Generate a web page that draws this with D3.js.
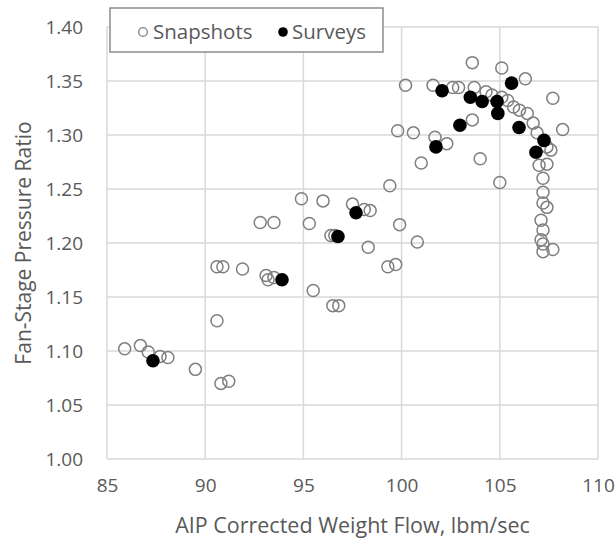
<!DOCTYPE html>
<html lang="en">
<head>
    <meta charset="UTF-8">
    <title>Fan-Stage Pressure Ratio vs Weight Flow</title>
    <script src="https://d3js.org/d3.v7.min.js"></script>
    <style>
        body { margin: 0; background: #fff; }
        text { font-family: "Open Sans", sans-serif; fill: #595959; }
    </style>
</head>
<body>
    <script>
        // Snapshots (open circles)
        const snapX = [85.9, 86.7, 87.1, 87.7, 88.1, 89.5, 90.8, 91.2, 90.6, 90.6, 90.9, 91.9,
            93.1, 93.2, 93.5, 92.8, 93.5, 94.9, 96.0, 95.3, 95.5, 96.5, 96.8, 96.4, 96.6,
            97.5, 98.1, 98.4, 98.3, 99.3, 99.7, 99.4, 99.9, 100.8, 100.2, 99.8, 100.6, 101.0,
            101.7, 102.3, 101.6, 102.6, 102.9, 103.6, 104.0, 105.0, 103.6, 105.1, 106.3, 107.7,
            108.2, 103.7, 104.3, 104.6, 105.1, 105.4, 105.7, 106.0, 106.4, 106.7, 106.9, 107.4,
            107.6, 107.0, 107.4, 107.2, 107.2, 107.2, 107.4, 107.1, 107.2, 107.1, 107.2, 107.2, 107.7];
        const snapY = [1.102, 1.105, 1.099, 1.095, 1.094, 1.083, 1.070, 1.072, 1.128, 1.178, 1.178, 1.176,
            1.170, 1.166, 1.168, 1.219, 1.219, 1.241, 1.239, 1.218, 1.156, 1.142, 1.142, 1.207, 1.207,
            1.236, 1.231, 1.230, 1.196, 1.178, 1.180, 1.253, 1.217, 1.201, 1.346, 1.304, 1.302, 1.274,
            1.298, 1.292, 1.346, 1.344, 1.344, 1.367, 1.278, 1.256, 1.314, 1.362, 1.352, 1.334,
            1.305, 1.344, 1.340, 1.337, 1.335, 1.332, 1.326, 1.323, 1.320, 1.311, 1.302, 1.289,
            1.286, 1.272, 1.273, 1.260, 1.247, 1.237, 1.233, 1.221, 1.212, 1.203, 1.199, 1.192, 1.194];

        // Surveys (filled circles)
        const survX = [87.34, 93.91, 96.76, 97.68, 101.75, 102.97, 102.06, 103.5, 104.1, 104.86,
            104.9, 105.6, 105.98, 107.25, 106.84];
        const survY = [1.091, 1.166, 1.206, 1.228, 1.289, 1.309, 1.341, 1.335, 1.331, 1.331,
            1.320, 1.348, 1.307, 1.295, 1.284];

        const xTicks = [85, 90, 95, 100, 105, 110];
        const yTicks = [1.00, 1.05, 1.10, 1.15, 1.20, 1.25, 1.30, 1.35, 1.40];

        const width = 616, height = 539;
        const margin = { top: 27, right: 18, bottom: 80, left: 107 };

        const svg = d3.select("body").append("svg")
            .attr("width", width)
            .attr("height", height);

        const x = d3.scaleLinear().domain([85, 110]).range([margin.left, width - margin.right]);
        const y = d3.scaleLinear().domain([1.0, 1.4]).range([height - margin.bottom, margin.top]);

        // Gridlines
        svg.append("g")
            .selectAll("line.v")
            .data(xTicks)
            .join("line")
            .attr("x1", d => x(d)).attr("x2", d => x(d))
            .attr("y1", y(1.0)).attr("y2", y(1.4))
            .attr("stroke", "#d9d9d9").attr("stroke-width", 1.5);

        svg.append("g")
            .selectAll("line.h")
            .data(yTicks)
            .join("line")
            .attr("x1", x(85)).attr("x2", x(110))
            .attr("y1", d => y(d)).attr("y2", d => y(d))
            .attr("stroke", "#d9d9d9").attr("stroke-width", 1.5);

        // Axes labels
        const xAxis = svg.append("g")
            .attr("transform", `translate(0,${y(1.0)})`)
            .call(d3.axisBottom(x).tickValues(xTicks).tickSize(0).tickPadding(20).tickFormat(d3.format("d")));
        xAxis.select(".domain").remove();

        const yAxis = svg.append("g")
            .attr("transform", `translate(${x(85)},0)`)
            .call(d3.axisLeft(y).tickValues(yTicks).tickSize(0).tickPadding(24).tickFormat(d3.format(".2f")));
        yAxis.select(".domain").remove();

        svg.selectAll(".tick text")
            .attr("font-size", 19)
            .attr("font-family", "Open Sans, sans-serif")
            .attr("fill", "#595959");

        // Axis titles
        svg.append("text")
            .attr("x", (x(85) + x(110)) / 2)
            .attr("y", 533)
            .attr("text-anchor", "middle")
            .attr("font-size", 21.5)
            .text("AIP Corrected Weight Flow, lbm/sec");

        svg.append("text")
            .attr("transform", `translate(31,${(y(1.0) + y(1.4)) / 2}) rotate(-90)`)
            .attr("text-anchor", "middle")
            .attr("font-size", 21)
            .text("Fan-Stage Pressure Ratio");

        // Snapshots
        svg.append("g")
            .selectAll("circle")
            .data(d3.zip(snapX, snapY))
            .join("circle")
            .attr("cx", d => x(d[0]))
            .attr("cy", d => y(d[1]))
            .attr("r", 6)
            .attr("fill", "none")
            .attr("stroke", "#7f7f7f")
            .attr("stroke-width", 1.5);

        // Surveys
        svg.append("g")
            .selectAll("circle")
            .data(d3.zip(survX, survY))
            .join("circle")
            .attr("cx", d => x(d[0]))
            .attr("cy", d => y(d[1]))
            .attr("r", 6.8)
            .attr("fill", "#000");

        // Legend
        const legend = svg.append("g");
        legend.append("rect")
            .attr("x", 110).attr("y", 8)
            .attr("width", 273).attr("height", 44)
            .attr("fill", "#fff")
            .attr("stroke", "#8c8c8c").attr("stroke-width", 1.5);
        legend.append("circle")
            .attr("cx", 143).attr("cy", 32).attr("r", 4.3)
            .attr("fill", "none").attr("stroke", "#7f7f7f").attr("stroke-width", 1.3);
        legend.append("text")
            .attr("x", 153).attr("y", 39)
            .attr("font-size", 20.5)
            .text("Snapshots");
        legend.append("circle")
            .attr("cx", 283).attr("cy", 32).attr("r", 4.8)
            .attr("fill", "#000");
        legend.append("text")
            .attr("x", 292).attr("y", 39)
            .attr("font-size", 20.5)
            .text("Surveys");
    </script>
</body>
</html>
